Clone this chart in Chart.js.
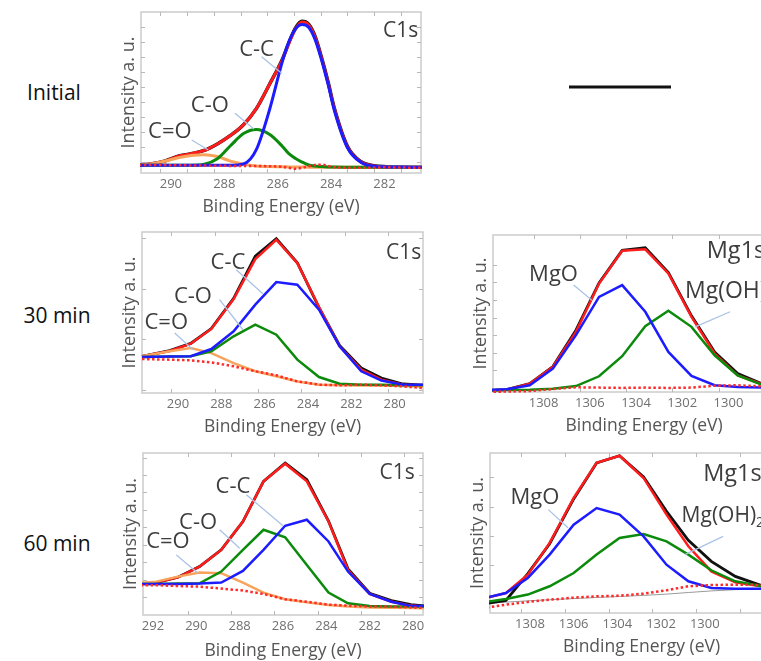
<!DOCTYPE html>
<html><head><meta charset="utf-8">
<script src="https://cdn.jsdelivr.net/npm/chart.js@4.4.1/dist/chart.umd.min.js"></script>
<style>
html,body{margin:0;padding:0;background:#fff;overflow:hidden;width:761px;height:661px;position:relative;font-family:'Open Sans',sans-serif;}
canvas{position:absolute;}
.row{position:absolute;font-size:21px;color:#111;transform:translate(-50%,-50%);white-space:nowrap;}
</style></head><body>
<div class="row" style="left:54px;top:92px">Initial</div>
<div class="row" style="left:57px;top:315px">30 min</div>
<div class="row" style="left:57px;top:543px">60 min</div>
<script>
// ---------- Panel 1: Initial, C1s ----------
const p1Energy = [291.2, 290.70, 290.21, 289.73, 289.24, 288.75, 288.26, 287.77, 287.28, 286.80, 286.31, 285.82, 285.58, 285.33, 285.09, 284.84, 284.60, 284.36, 284.11, 283.87, 283.38, 282.89, 282.40, 281.92, 281.43, 280.94, 280.6];
const p1Raw  = [4.8, 5.8, 7.6, 10.5, 12.0, 14.0, 18.0, 23.3, 30.0, 40.0, 55.0, 70.8, 81.0, 90.2, 94.3, 92.5, 85.0, 72.0, 56.5, 40.0, 16.5, 7.2, 4.6, 3.9, 3.6, 3.5, 3.5];
const p1Fit  = [4.8, 5.8, 7.5, 10.5, 12.0, 14.0, 18.0, 23.3, 30.0, 40.0, 55.0, 70.5, 80.5, 89.5, 93.8, 92.0, 84.5, 71.5, 56.0, 39.5, 16.0, 7.0, 4.4, 3.8, 3.6, 3.5, 3.5];
const p1CC   = [4.8, 4.8, 4.8, 4.8, 4.8, 4.8, 4.8, 4.8, 5.6, 14.5, 39.0, 69.5, 81.5, 89.5, 92.2, 90.5, 83.0, 70.5, 55.0, 38.5, 15.5, 6.7, 4.2, 3.8, 3.7, 3.6, 3.6];
const p1CO   = [4.8, 4.8, 4.8, 4.8, 4.8, 5.4, 8.8, 16.9, 24.5, 27.0, 24.0, 16.5, 12.0, 9.0, 6.8, 5.0, 4.3, 4.0, 3.8, 3.7, 3.6, 3.6, 3.6, 3.6, 3.6, 3.6, 3.6];
const p1CdO  = [4.8, 5.8, 7.4, 9.5, 10.9, 11.4, 10.2, 7.4, 5.5, 4.4, 4.0, 3.9, 3.8, 3.7, 3.7, 3.6, 3.6, 3.6, 3.6, 3.6, 3.6, 3.6, 3.6, 3.6, 3.6, 3.6, 3.6];
const p1Bg   = [5.0, 5.0, 4.9, 4.8, 4.7, 4.6, 4.5, 4.4, 4.3, 4.3, 4.2, 3.8, 3.2, 2.6, 3.2, 4.2, 5.0, 5.2, 4.4, 3.6, 3.3, 3.2, 3.3, 3.5, 3.4, 3.3, 3.3];
const p1XLabels = [290, 288, 286, 284, 282];
const p1YTicks = [6.8, 16.1, 25.4, 34.7, 44.0, 53.3, 62.6, 71.9, 81.2, 90.5];

// ---------- Panel 2: 30 min, C1s ----------
const p2Energy = [291.66, 290.38, 289.41, 288.46, 287.43, 286.43, 285.46, 284.49, 283.49, 282.54, 281.54, 280.61, 279.62, 278.69];
const p2Raw  = [22.8, 26.3, 30.8, 40.0, 58.8, 85.0, 95.8, 80.9, 53.0, 29.5, 15.5, 9.3, 5.6, 4.8];
const p2Fit  = [22.8, 26.1, 30.6, 39.8, 58.4, 83.2, 95.2, 80.7, 53.4, 29.0, 14.5, 8.3, 5.2, 4.8];
const p2CC   = [22.4, 22.6, 22.8, 27.3, 38.3, 54.9, 68.9, 67.3, 51.8, 29.0, 13.5, 7.7, 5.2, 5.2];
const p2CO   = [22.4, 22.6, 22.8, 25.9, 35.2, 42.4, 36.2, 20.7, 9.9, 5.8, 5.2, 5.2, 4.8, 4.8];
const p2CdO  = [22.8, 25.9, 27.9, 24.8, 18.6, 13.5, 10.4, 7.2, 5.2, 4.8, 4.6, 4.6, 4.3, 4.1];
const p2Bg   = [21.1, 20.7, 20.3, 19.0, 16.6, 13.5, 11.0, 7.2, 5.2, 4.8, 5.2, 4.8, 4.1, 3.1];
const p2XLabels = [290, 288, 286, 284, 282, 280];
const p2YTicks = [2.1, 33.5, 64.9, 96.3];

// ---------- Panel 3: 30 min, Mg1s ----------
const p3Energy = [1310.6, 1309.6, 1308.6, 1307.6, 1306.6, 1305.6, 1304.6, 1303.6, 1302.6, 1301.6, 1300.6, 1299.6, 1298.6, 1297.6];
const p3Raw  = [1.0, 1.5, 5.3, 16.2, 39.4, 69.5, 90.2, 91.9, 76.0, 48.5, 25.5, 11.7, 5.6, 3.6];
const p3Fit  = [1.0, 1.5, 5.3, 16.0, 38.3, 69.1, 90.0, 90.9, 75.5, 47.9, 24.5, 10.6, 5.3, 3.5];
const p3MgO  = [1.0, 1.7, 4.3, 14.9, 36.2, 60.6, 68.1, 51.1, 25.5, 10.2, 4.3, 3.2, 2.8, 2.8];
const p3MgOH = [1.0, 1.3, 1.5, 2.1, 3.8, 10.0, 22.8, 41.9, 51.7, 41.5, 23.4, 10.6, 4.9, 3.5];
const p3Bg   = [0.0, 0.3, 0.6, 1.9, 3.0, 2.8, 2.6, 2.8, 2.6, 2.8, 4.0, 4.3, 3.6, 3.6];
const p3XLabels = [1308, 1306, 1304, 1302, 1300];
const p3YTicks = [13.8, 25.0, 36.2, 47.4, 58.6, 69.8, 81.0];

// ---------- Panel 4: 60 min, C1s ----------
const p4Energy = [292.8, 291.85, 290.85, 289.85, 288.85, 287.85, 286.9, 285.9, 284.9, 283.9, 283.0, 282.0, 281.0, 280.1, 279.1];
const p4Raw  = [19.0, 20.0, 23.3, 29.9, 40.2, 57.7, 82.5, 93.8, 83.5, 58.0, 28.5, 13.4, 8.9, 6.4, 5.0];
const p4Fit  = [19.0, 20.0, 23.3, 29.9, 40.2, 57.7, 82.5, 93.4, 82.5, 57.7, 27.8, 13.0, 8.2, 5.8, 4.9];
const p4CC   = [19.2, 19.2, 19.2, 19.4, 20.0, 27.2, 40.2, 55.1, 58.8, 45.4, 26.8, 13.0, 8.2, 5.6, 5.6];
const p4CO   = [19.2, 19.2, 19.4, 19.6, 26.8, 40.2, 52.6, 48.0, 30.9, 13.8, 7.2, 5.6, 5.2, 5.2, 5.2];
const p4CdO  = [19.6, 20.6, 23.7, 26.2, 25.8, 20.0, 13.8, 9.7, 7.8, 6.2, 5.2, 4.7, 4.5, 4.3, 4.1];
const p4Bg   = [18.4, 18.4, 17.9, 17.5, 16.3, 15.1, 13.0, 9.7, 8.2, 6.4, 5.8, 5.2, 5.2, 4.7, 4.1];
const p4XLabels = [292, 290, 288, 286, 284, 282, 280];
const p4YTicks = [11.3, 21.6, 32.6, 43.3, 54.2, 64.9, 75.7, 86.6, 96.9];

// ---------- Panel 5: 60 min, Mg1s ----------
const p5Energy = [1310.2, 1309.1, 1308.1, 1307.1, 1306.0, 1304.95, 1303.9, 1302.8, 1301.75, 1300.75, 1299.7, 1298.6, 1297.4];
const p5Raw  = [5.5, 7.9, 24.6, 43.3, 71.3, 93.8, 98.3, 85.0, 63.5, 45.4, 32.3, 22.9, 17.1];
const p5Fit  = [8.7, 12.5, 24.0, 43.8, 71.9, 93.8, 98.3, 84.4, 61.5, 41.7, 26.0, 19.2, 16.7];
const p5MgO  = [9.0, 12.5, 21.9, 36.5, 55.2, 65.6, 61.5, 47.9, 30.2, 19.8, 15.6, 15.2, 15.2];
const p5MgOH = [6.5, 8.75, 11.5, 16.7, 25.0, 36.5, 46.9, 49.4, 44.8, 36.5, 26.7, 19.8, 16.7];
const p5Bg   = [3.0, 5.2, 6.9, 8.3, 9.6, 10.4, 10.8, 12.1, 14.2, 16.7, 17.5, 17.7, 17.5];
const p5Base = [6.0, 6.8, 7.6, 8.3, 9.0, 9.7, 10.3, 11.0, 11.8, 12.8, 13.8, 14.6, 15.0];
const p5XLabels = [1308, 1306, 1304, 1302, 1300];
const p5YTicks = [11.5, 29.8, 48.1, 66.4, 84.7];

// ---------- styles ----------
const COL = {raw:'#111111', fit:'#ff1c1c', blue:'#1c1cff', green:'#0b8a0b', orange:'#f7a35c', bg:'#ff2a2a', base:'#9a9a9a'};
const FONT = "'Open Sans', sans-serif";
const PAD_T = 6, PAD_R = 6, AX_Y = 23;

function pts(xs, ys){ return xs.map((x,i)=>({x:x, y:ys[i]})); }
function marks(from, to, step){ const a=[]; for(let v=from; v<=to+1e-9; v+=step) a.push(+v.toFixed(2)); return a; }
function ds(label, xs, ys, color, w, extra){
  return Object.assign({label, data:pts(xs,ys), borderColor:color, borderWidth:w, pointRadius:0, fill:false, clip:1}, extra||{});
}

const decor = {
  id:'decor',
  beforeDatasetsDraw(chart, args, o){
    const {ctx, chartArea:a, scales:{x,y}} = chart;
    ctx.save();
    ctx.strokeStyle = '#cccccc'; ctx.lineWidth = 1.5;
    ctx.strokeRect(a.left, a.top, a.right-a.left, a.bottom-a.top);
    ctx.lineWidth = 1; ctx.strokeStyle = '#b8b8b8';
    ctx.beginPath();
    for (const v of o.xMarks){ const px = Math.round(x.getPixelForValue(v))+0.5;
      ctx.moveTo(px,a.bottom); ctx.lineTo(px,a.bottom-4); ctx.moveTo(px,a.top); ctx.lineTo(px,a.top+4); }
    for (const v of o.yMarks){ const py = Math.round(y.getPixelForValue(v))+0.5;
      ctx.moveTo(a.left,py); ctx.lineTo(a.left+4,py); ctx.moveTo(a.right,py); ctx.lineTo(a.right-4,py); }
    ctx.stroke(); ctx.restore();
  },
  afterDatasetsDraw(chart, args, o){
    const {ctx, scales:{x,y}} = chart;
    ctx.save();
    for (const n of o.notes){
      if (n.leader){
        ctx.strokeStyle = '#a9c3e6'; ctx.lineWidth = 1.3; ctx.beginPath();
        ctx.moveTo(x.getPixelForValue(n.leader[0]), y.getPixelForValue(n.leader[1]));
        ctx.lineTo(x.getPixelForValue(n.leader[2]), y.getPixelForValue(n.leader[3]));
        ctx.stroke();
      }
      const px = x.getPixelForValue(n.x), py = y.getPixelForValue(n.y);
      const size = n.size||22;
      ctx.font = size+'px '+FONT; ctx.fillStyle = '#3d3d3d';
      ctx.textAlign = n.align||'center'; ctx.textBaseline = 'middle';
      ctx.fillText(n.text, px, py);
      if (n.sub){
        const w = ctx.measureText(n.text).width;
        ctx.font = Math.round(size*0.65)+'px '+FONT; ctx.textAlign='left';
        ctx.fillText(n.sub, px + w, py + 7);
      }
    }
    ctx.restore();
  }
};

function panel(frame, axX, xRange, xLabels, xMarks, yMarks, datasets, notes, smooth){
  const c = document.createElement('canvas');
  const w = frame.R - frame.L + AX_Y + PAD_R, h = frame.B - frame.T + PAD_T + axX;
  c.width = w; c.height = h;
  c.style.left = (frame.L - AX_Y)+'px'; c.style.top = (frame.T - PAD_T)+'px';
  c.style.width = w+'px'; c.style.height = h+'px';
  document.body.appendChild(c);
  new Chart(c, {
    type:'line',
    data:{datasets},
    options:{
      responsive:false, animation:false, devicePixelRatio:1,
      layout:{padding:{top:PAD_T, right:PAD_R, left:0, bottom:0}},
      elements:{line:{tension:0, cubicInterpolationMode: smooth ? 'monotone' : 'default'}, point:{radius:0}},
      plugins:{legend:{display:false}, tooltip:{enabled:false}, decor:{xMarks, yMarks, notes}},
      scales:{
        x:{type:'linear', reverse:true, min:xRange[0], max:xRange[1],
           afterBuildTicks(s){ s.ticks = xLabels.map(v => ({value:v})); },
           afterFit(s){ s.height = axX; },
           grid:{display:false, drawTicks:false}, border:{display:false},
           ticks:{padding:3, color:'#707070', maxRotation:0, autoSkip:false,
                  font:{family:FONT, size:13}, callback:v => String(v)},
           title:{display:true, text:'Binding Energy (eV)', color:'#555555', font:{family:FONT, size:17.5}, padding:{top:0,bottom:1}}},
        y:{min:0, max:100, afterFit(s){ s.width = AX_Y; },
           grid:{display:false, drawTicks:false}, border:{display:false}, ticks:{display:false},
           title:{display:true, text:'Intensity a. u.', color:'#555555', font:{family:FONT, size:18}, padding:{top:0,bottom:0}}}
      }
    },
    plugins:[decor]
  });
}

// Panel 1
panel({L:141,T:12,R:421,B:173}, 46, [280.63, 291.12], p1XLabels, marks(281.39, 290.39, 1), p1YTicks, [
  ds('Background', p1Energy, p1Bg, COL.bg, 2.5, {borderDash:[2.5,2.5]}),
  ds('C-C', p1Energy, p1CC, COL.blue, 3),
  ds('C-O', p1Energy, p1CO, COL.green, 3),
  ds('C=O', p1Energy, p1CdO, COL.orange, 3),
  ds('Fit', p1Energy, p1Fit, COL.fit, 3),
  ds('Raw', p1Energy, p1Raw, COL.raw, 3.4)
], [
  {text:'C1s', x:280.73, y:88.0, align:'right', size:21},
  {text:'C-C', x:286.79, y:76.4, leader:[286.60,72.2,285.85,61.9]},
  {text:'C-O', x:288.54, y:41.6, leader:[287.60,37.1,286.89,27.3]},
  {text:'C=O', x:290.04, y:25.7, leader:[289.22,20.5,288.60,14.3]}
], true);

// Panel 2
panel({L:142,T:232,R:423,B:393}, 46, [278.69, 291.66], p2XLabels, marks(280.3, 290.3, 2), p2YTicks, [
  ds('Background', p2Energy, p2Bg, COL.bg, 2.5, {borderDash:[2.5,2.5]}),
  ds('C-C', p2Energy, p2CC, COL.blue, 2.5),
  ds('C-O', p2Energy, p2CO, COL.green, 2.5),
  ds('C=O', p2Energy, p2CdO, COL.orange, 2.5),
  ds('Fit', p2Energy, p2Fit, COL.fit, 2.5),
  ds('Raw', p2Energy, p2Raw, COL.raw, 2.8)
], [
  {text:'C1s', x:278.77, y:87.0, align:'right', size:21},
  {text:'C-C', x:287.69, y:80.7, leader:[287.31,76.6,286.08,61.7]},
  {text:'C-O', x:289.31, y:59.6, leader:[288.08,58.0,287.0,39.3]},
  {text:'C=O', x:290.54, y:43.5, leader:[290.15,37.3,289.31,26.9]}
], false);

// Panel 3
panel({L:493,T:235,R:795,B:392}, 46, [1297.12, 1310.19], p3XLabels, marks(1298.43, 1308.43, 2), p3YTicks, [
  ds('Background', p3Energy, p3Bg, COL.bg, 2.5, {borderDash:[2.5,2.5]}),
  ds('MgO', p3Energy, p3MgO, COL.blue, 2.5),
  ds('Mg(OH)2', p3Energy, p3MgOH, COL.green, 2.5),
  ds('Fit', p3Energy, p3Fit, COL.fit, 2.5),
  ds('Raw', p3Energy, p3Raw, COL.raw, 2.8)
], [
  {text:'Mg1s', x:1300.94, y:89.4, align:'left', size:23.5},
  {text:'MgO', x:1307.57, y:74.5, leader:[1306.7,68.1,1305.91,58.5]},
  {text:'Mg(OH)', sub:'2', x:1301.88, y:63.8, align:'left', size:23, leader:[1299.93,51.1,1301.44,41.5]}
], false);

// Panel 4
panel({L:143,T:453,R:423,B:615}, 48, [279.54, 292.46], p4XLabels, marks(280.4, 290.4, 2), p4YTicks, [
  ds('Background', p4Energy, p4Bg, COL.bg, 2.5, {borderDash:[2.5,2.5]}),
  ds('C-C', p4Energy, p4CC, COL.blue, 2.5),
  ds('C-O', p4Energy, p4CO, COL.green, 2.5),
  ds('C=O', p4Energy, p4CdO, COL.orange, 2.5),
  ds('Fit', p4Energy, p4Fit, COL.fit, 2.5),
  ds('Raw', p4Energy, p4Raw, COL.raw, 2.8)
], [
  {text:'C1s', x:279.92, y:87.6, align:'right', size:21},
  {text:'C-C', x:288.31, y:79.4, leader:[287.69,74.2,286.0,55.1]},
  {text:'C-O', x:289.92, y:56.7, leader:[288.92,52.6,288.0,41.2]},
  {text:'C=O', x:291.31, y:45.4, leader:[290.92,37.1,289.92,25.8]}
], false);

// Panel 5
panel({L:490,T:453,R:793,B:613}, 46, [1295.96, 1309.83], p5XLabels, marks(1296.4, 1308.4, 2), p5YTicks, [
  ds('Background', p5Energy, p5Bg, COL.bg, 2.5, {borderDash:[2.5,2.5]}),
  ds('MgO', p5Energy, p5MgO, COL.blue, 2.5),
  ds('Mg(OH)2', p5Energy, p5MgOH, COL.green, 2.5),
  ds('Fit', p5Energy, p5Fit, COL.fit, 2.5),
  ds('Raw', p5Energy, p5Raw, COL.raw, 2.8),
  ds('Baseline', p5Energy, p5Base, COL.base, 1)
], [
  {text:'Mg1s', x:1300.07, y:86.5, align:'left', size:23.5},
  {text:'MgO', x:1307.77, y:71.9, leader:[1307.16,64.6,1306.25,53.1]},
  {text:'Mg(OH)', sub:'2', x:1301.06, y:60.4, align:'left', size:21, leader:[1299.16,47.9,1300.91,36.5]}
], false);

// Top-right short black line (Initial row, Mg1s column)
const refX = [0, 1];
const refY = [0, 0];
(function(){
  const c = document.createElement('canvas');
  c.width = 110; c.height = 14; c.style.left='565px'; c.style.top='80px'; c.style.width='110px'; c.style.height='14px';
  document.body.appendChild(c);
  new Chart(c, {type:'line', data:{datasets:[{data:pts(refX,refY), borderColor:'#111', borderWidth:3, pointRadius:0}]},
    options:{responsive:false, animation:false, devicePixelRatio:1, layout:{padding:{left:4,right:4,top:0,bottom:0}},
      plugins:{legend:{display:false}, tooltip:{enabled:false}},
      scales:{x:{type:'linear', display:false, min:0, max:1}, y:{display:false, min:-1, max:1}}}});
})();
</script>
</body></html>
